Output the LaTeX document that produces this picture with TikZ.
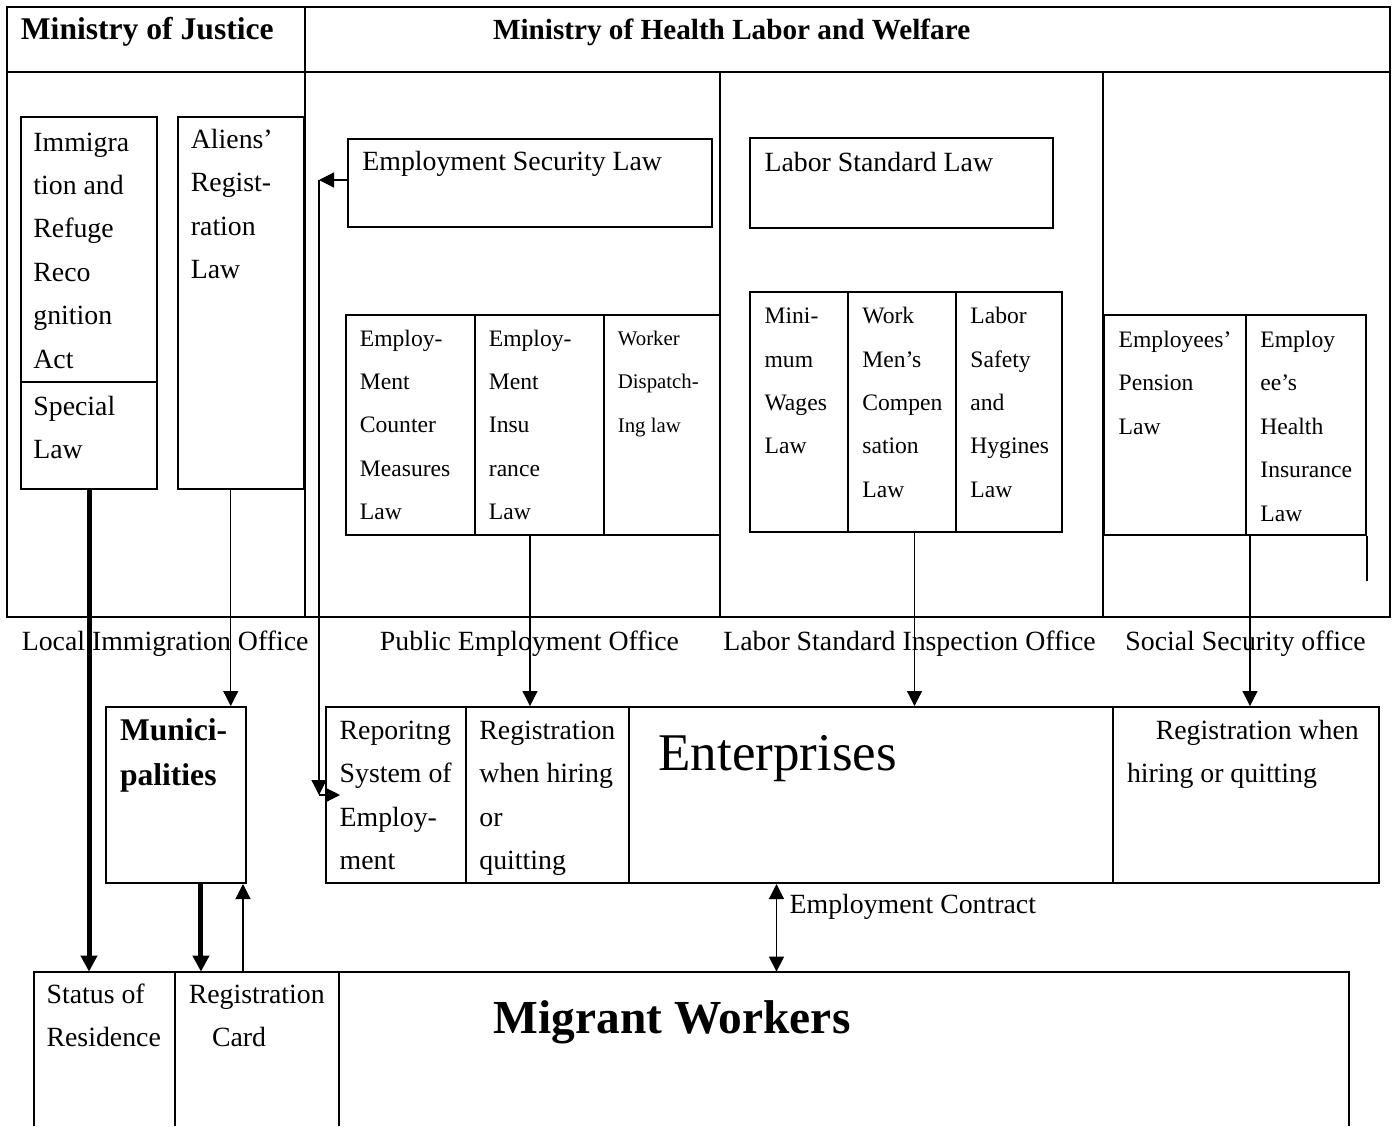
\documentclass[tikz,border=0pt]{standalone}
\usepackage{fontspec}
\setmainfont{Liberation Serif}
\usetikzlibrary{arrows.meta,fit}

\newcommand\lawfont{\fontsize{13.9}{21.7}\selectfont}
\newcommand\cellfont{\fontsize{11.8}{21.7}\selectfont}
\newcommand\dispfont{\fontsize{10.4}{21.7}\selectfont}
\newcommand\headfont{\fontsize{15.8}{22.5}\selectfont\bfseries}

\tikzset{
  box/.style={draw, line width=1pt, inner sep=0pt},
  cell/.style={inner sep=0pt},
  lbl/.style={inner sep=0pt, anchor=base west, align=left, text width=300pt, font=\lawfont,
    execute at begin node={\spaceskip=0pt\xspaceskip=0pt\relax}},
  arr/.style={-{Triangle[length=7.5pt,width=7.5pt]}, line width=0.6pt},
  dblarr/.style={{Triangle[length=7.5pt,width=7.5pt]}-{Triangle[length=7.5pt,width=7.5pt]}, line width=0.6pt},
  fatarr/.style={-{Triangle[length=8pt,width=8pt]}, line width=2.5pt},
}

\begin{document}
\begin{tikzpicture}[x=0.5pt, y=-0.5pt]
  \useasboundingbox (0,0) rectangle (1394,1126);

  % ministries, header row and body
  \node[box, fit={(7,7) (305,72)}] (mjh) {};
  \node[box, fit={(305,7) (1390,72)}] (mhh) {};
  \node[box, fit={(7,72) (305,617)}] (mjb) {};
  \node[box, fit={(305,72) (1390,617)}] (mhb) {};
  \draw[line width=1pt] (720,72) -- (720,617);
  \draw[line width=1pt] (1103,72) -- (1103,617);

  \node[lbl, font=\headfont] (mjtx) at (20.5,39.5) {Ministry of Justice};
  \node[lbl, font=\fontsize{14.6}{20}\selectfont\bfseries] (mhtx) at (492.6,39.5) {Ministry of Health Labor and Welfare};

  % Ministry of Justice laws
  \node[box, fit={(21,117) (157,382)}] (imm) {};
  \node[box, fit={(21,382) (157,489)}] (spl) {};
  \node[box, fit={(178,117) (303.5,489)}] (ali) {};
  \node[lbl] (immtx) at (33,151) {Immigra\\tion and\\Refuge\\Reco\\gnition\\Act};
  \node[lbl] (spltx) at (33,415) {Special\\Law};
  \node[lbl] (alitx) at (190.5,148.3) {Aliens'\\Regist-\\ration\\Law};

  % employment laws
  \node[box, fit={(347.5,139) (712,227)}] (esl) {};
  \node[lbl] (esltx) at (362,170.7) {Employment Security Law};
  \node[box, fit={(345.5,315) (475,534.5)}] (emc) {};
  \node[box, fit={(475,315) (604,534.5)}] (ein) {};
  \node[box, fit={(604,315) (719.5,534.5)}] (wdl) {};
  \node[lbl, font=\cellfont] (emctx) at (359.5,346) {Employ-\\Ment\\Counter\\Measures\\Law};
  \node[lbl, font=\cellfont] (eintx) at (488.5,346) {Employ-\\Ment\\Insu\\rance\\Law};
  \node[lbl, font=\dispfont] (wdltx) at (617.5,345.3) {Worker\\Dispatch-\\Ing law};

  % labor laws
  \node[box, fit={(749.5,138) (1052.5,228)}] (lsl) {};
  \node[lbl] (lsltx) at (764.2,171.4) {Labor Standard Law};
  \node[box, fit={(749.5,292) (848,532)}] (mwl) {};
  \node[box, fit={(848,292) (956,532)}] (wcl) {};
  \node[box, fit={(956,292) (1062,532)}] (lsh) {};
  \node[lbl, font=\cellfont] (mwltx) at (764.2,323.6) {Mini-\\mum\\Wages\\Law};
  \node[lbl, font=\cellfont] (wcltx) at (862,323.6) {Work\\Men's\\Compen\\sation\\Law};
  \node[lbl, font=\cellfont] (lshtx) at (970,323.6) {Labor\\Safety\\and\\Hygines\\Law};

  % social insurance laws
  \node[box, fit={(1104,315) (1246,535)}] (epl) {};
  \node[box, fit={(1246,315) (1366,535)}] (ehi) {};
  \draw[line width=1pt] (epl.south west) -- ++(0,45);
  \draw[line width=1pt] (ehi.south east) -- ++(0,45);
  \node[lbl, font=\cellfont] (epltx) at (1118.3,347.5) {Employees'\\Pension\\Law};
  \node[lbl, font=\cellfont] (ehitx) at (1260,347.5) {Employ\\ee's\\Health\\Insurance\\Law};

  % offices
  \node[lbl] (lio) at (21.4,650) {Local Immigration Office};
  \node[lbl] (peo) at (379.5,650) {Public Employment Office};
  \node[lbl] (lsio) at (723,650) {Labor Standard Inspection Office};
  \node[lbl] (sso) at (1125,650) {Social Security office};

  % municipalities and enterprises
  \node[box, fit={(105.5,707) (246,883)}] (mun) {};
  \node[lbl, font=\headfont] (muntx) at (119.6,740) {Munici-\\palities};
  \node[box, fit={(326,707) (466,883)}] (rse) {};
  \node[box, fit={(466,707) (629,883)}] (rhq) {};
  \node[box, fit={(629,707) (1113,883)}] (ent) {};
  \node[box, fit={(1113,707) (1379,883)}] (rhs) {};
  \node[lbl] (rsetx) at (339.3,739.3) {Reporitng\\System of\\Employ-\\ment};
  \node[lbl] (rhqtx) at (479,739.3) {Registration\\when hiring\\or\\quitting};
  \node[lbl, font=\fontsize{26.5}{30}\selectfont] (enttx) at (658.2,770.7) {Enterprises};
  \node[lbl] (rhstx) at (1126.6,739.3) {\hspace*{14.4pt}Registration when\\hiring or quitting};

  % migrant workers, open at the bottom
  \node[cell, fit={(34,972) (175,1126)}] (sor) {};
  \node[cell, fit={(175,972) (339,1126)}] (rcd) {};
  \node[cell, fit={(339,972) (1348.5,1126)}] (mwk) {};
  \draw[line width=1pt] (sor.south west) |- (mwk.north east) -- (mwk.south east);
  \draw[line width=1pt] (rcd.south west) -- (rcd.north west);
  \draw[line width=1pt] (rcd.south east) -- (rcd.north east);
  \node[lbl] (sortx) at (46.2,1003.3) {Status of\\Residence};
  \node[lbl] (rcdtx) at (188.4,1003.3) {Registration\\\hspace*{11.6pt}Card};
  \node[lbl, font=\fontsize{23.7}{28}\selectfont\bfseries] (mwktx) at (493.3,1033.3) {Migrant Workers};

  % arrows
  \draw[fatarr] (spl.south) -- (spl.south |- sor.north);
  \draw[arr] ([xshift=-5pt]ali.south) -- ([xshift=-5pt]ali.south |- mun.north);
  \coordinate (esk) at (319,180);
  \draw[arr] ([yshift=1.5pt]esl.west) -- (esk);
  \draw[arr] (esk) -- (esk |- rse.west);
  \draw[arr] (esk |- rse.west) -- ([xshift=7.5pt]rse.west);
  \draw[arr] ([xshift=-4.75pt]ein.south) -- ([xshift=-4.75pt]ein.south |- rhq.north);
  \draw[arr] ([xshift=6.25pt]wcl.south) -- ([xshift=6.25pt]wcl.south |- ent.north);
  \draw[arr] ([xshift=2.5pt]ehi.south west) -- ([xshift=2.5pt]ehi.south west |- rhs.north);
  \draw[fatarr] ([xshift=12.6pt]mun.south) -- ([xshift=12.6pt]mun.south |- rcd.north);
  \draw[arr] ([xshift=-2pt]mun.south east |- rcd.north) -- ([xshift=-2pt]mun.south east);
  \coordinate (ecx) at (776.5,883);
  \draw[dblarr] (ecx |- ent.south) -- (ecx |- mwk.north);
  \node[lbl] (ectx) at (789.3,913.3) {Employment Contract};
\end{tikzpicture}
\end{document}
